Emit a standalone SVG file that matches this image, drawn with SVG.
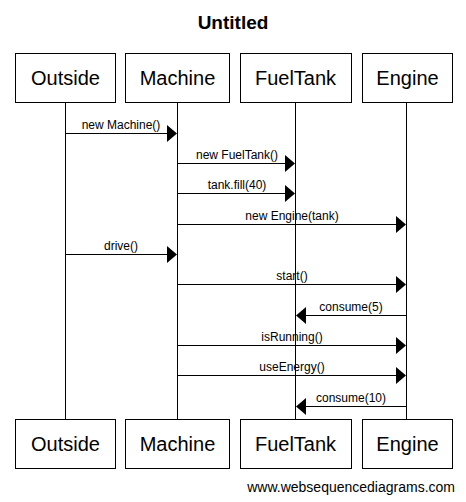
<svg xmlns="http://www.w3.org/2000/svg" width="466" height="502" viewBox="0 0 466 502">
<style>
.box{fill:#fff;stroke:#000;stroke-width:1}
.pn{font-family:"Liberation Sans",Arial,sans-serif;font-size:20px;text-anchor:middle;fill:#000}
.ll{stroke:#000;stroke-width:1}
.msg{stroke:#000;stroke-width:1;fill:none}
.lbl{font-family:"Liberation Sans",Arial,sans-serif;font-size:12px;text-anchor:middle;fill:#000}
.ah{fill:#000}
</style>
<rect width="466" height="502" fill="#fff"/>
<text x="233" y="29" font-family="Liberation Sans,Arial,sans-serif" font-size="19" font-weight="bold" text-anchor="middle">Untitled</text>
<g id="lifelines">
<line class="ll" x1="65.5" y1="102" x2="65.5" y2="419"/>
<line class="ll" x1="177.5" y1="102" x2="177.5" y2="419"/>
<line class="ll" x1="295.5" y1="102" x2="295.5" y2="419"/>
<line class="ll" x1="406.5" y1="102" x2="406.5" y2="419"/>
</g>
<g id="Outside">
<rect class="box" x="15.5" y="53.5" width="100" height="49"/>
<text class="pn" x="65.5" y="85">Outside</text>
<rect class="box" x="15.5" y="419.5" width="100" height="49"/>
<text class="pn" x="65.5" y="451">Outside</text>
</g>
<g id="Machine">
<rect class="box" x="125.5" y="53.5" width="104" height="49"/>
<text class="pn" x="177.5" y="85">Machine</text>
<rect class="box" x="125.5" y="419.5" width="104" height="49"/>
<text class="pn" x="177.5" y="451">Machine</text>
</g>
<g id="FuelTank">
<rect class="box" x="240.5" y="53.5" width="111" height="49"/>
<text class="pn" x="295.5" y="85">FuelTank</text>
<rect class="box" x="240.5" y="419.5" width="111" height="49"/>
<text class="pn" x="295.5" y="451">FuelTank</text>
</g>
<g id="Engine">
<rect class="box" x="362.5" y="53.5" width="90" height="49"/>
<text class="pn" x="407.5" y="85">Engine</text>
<rect class="box" x="362.5" y="419.5" width="90" height="49"/>
<text class="pn" x="407.5" y="451">Engine</text>
</g>
<g id="connectors">
<line class="msg" x1="65" y1="133.5" x2="168" y2="133.5"/>
<polygon class="ah" points="177,133.5 167,125 167,142"/>
<text class="lbl" x="121" y="129">new Machine()</text>

<line class="msg" x1="177" y1="163.5" x2="286" y2="163.5"/>
<polygon class="ah" points="295,163.5 285,155 285,172"/>
<text class="lbl" x="237" y="159">new FuelTank()</text>

<line class="msg" x1="177" y1="193.5" x2="286" y2="193.5"/>
<polygon class="ah" points="295,193.5 285,185 285,202"/>
<text class="lbl" x="237" y="189">tank.fill(40)</text>

<line class="msg" x1="177" y1="224.5" x2="397" y2="224.5"/>
<polygon class="ah" points="406,224.5 396,216 396,233"/>
<text class="lbl" x="292" y="220">new Engine(tank)</text>

<line class="msg" x1="65" y1="254.5" x2="168" y2="254.5"/>
<polygon class="ah" points="177,254.5 167,246 167,263"/>
<text class="lbl" x="121" y="250">drive()</text>

<line class="msg" x1="177" y1="284.5" x2="397" y2="284.5"/>
<polygon class="ah" points="406,284.5 396,276 396,293"/>
<text class="lbl" x="292" y="280">start()</text>

<line class="msg" x1="406" y1="315.5" x2="304" y2="315.5"/>
<polygon class="ah" points="296,315.5 306,307 306,324"/>
<text class="lbl" x="351" y="311">consume(5)</text>

<line class="msg" x1="177" y1="345.5" x2="397" y2="345.5"/>
<polygon class="ah" points="406,345.5 396,337 396,354"/>
<text class="lbl" x="292" y="341">isRunning()</text>

<line class="msg" x1="177" y1="375.5" x2="397" y2="375.5"/>
<polygon class="ah" points="406,375.5 396,367 396,384"/>
<text class="lbl" x="292" y="371">useEnergy()</text>

<line class="msg" x1="406" y1="406.5" x2="304" y2="406.5"/>
<polygon class="ah" points="296,406.5 306,398 306,415"/>
<text class="lbl" x="351" y="402">consume(10)</text>
</g>
<text x="455" y="492" font-family="Liberation Sans,Arial,sans-serif" font-size="14" text-anchor="end">www.websequencediagrams.com</text>
</svg>
